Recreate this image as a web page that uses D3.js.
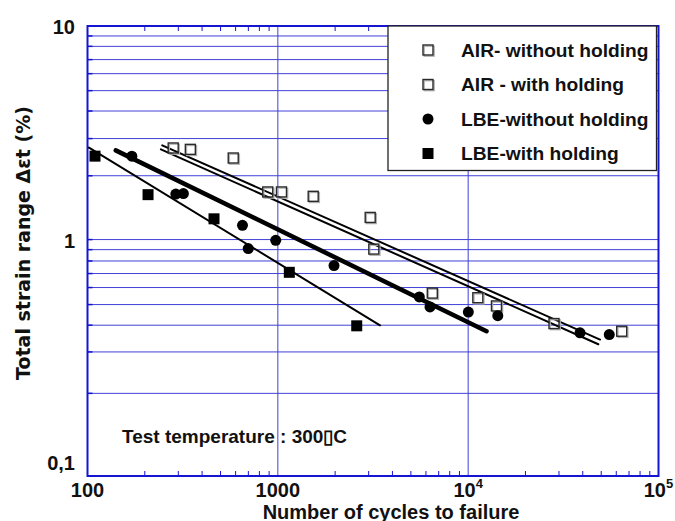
<!DOCTYPE html>
<html>
<head>
<meta charset="utf-8">
<script src="https://cdn.jsdelivr.net/npm/d3@7"></script>
<style>
  body { margin: 0; background: #fff; }
  svg { display: block; }
</style>
</head>
<body>
<svg id="chart" width="675" height="521"></svg>
<script>
// Fatigue life: total strain range vs number of cycles to failure

// AIR - without holding (open squares)
const airWithoutN = [347, 1045, 1534, 3193, 11240, 64080];
const airWithoutStrain = [2.83, 1.83, 1.75, 1.02, 0.62, 0.44];

// AIR - with holding (open squares)
const airWithN = [282, 583, 885, 3057, 6480, 14080, 28250];
const airWithStrain = [2.87, 2.59, 1.83, 1.41, 0.65, 0.57, 0.476];

// LBE - without holding (filled circles)
const lbeWithoutN = [171, 291, 319, 652, 699, 975, 1973, 5538, 6302, 10020, 14310, 38700, 55120];
const lbeWithoutStrain = [2.64, 1.79, 1.80, 1.30, 1.025, 1.116, 0.861, 0.625, 0.564, 0.535, 0.516, 0.433, 0.425];

// LBE - with holding (filled squares)
const lbeWithN = [109.5, 208, 462, 1149, 2597];
const lbeWithStrain = [2.64, 1.78, 1.39, 0.804, 0.465];

// fitted lines: [N start, strain start, N end, strain end]
const fitLines = [
    { ends: [247, 2.95, 49290, 0.404], width: 2 },
    { ends: [243, 2.83, 48280, 0.385], width: 2 },
    { ends: [140.7, 2.80, 12490, 0.44], width: 4.5 },
    { ends: [101.8, 2.88, 3442, 0.4675], width: 2 }
];

// horizontal grid positions as drawn in the original plot
const hGrid = [9.03, 8.12, 7.09, 6.14, 5.16, 4.19, 3.16, 2.16, 1.124, 1.014,
               0.903, 0.794, 0.688, 0.578, 0.468, 0.356, 0.233];
const vGrid = [1000, 10000];

const xTicks = [100, 1000, 10000, 100000];
const xTickText = [['100', ''], ['1000', ''], ['10', '4'], ['10', '5']];
const yTicks = [10, 1, 0.1];
const yTickText = ['10', '1', '0,1'];

const legendItems = [
    { label: 'AIR- without holding', shape: 'open' },
    { label: 'AIR - with holding', shape: 'open' },
    { label: 'LBE-without holding', shape: 'circle' },
    { label: 'LBE-with holding', shape: 'filled' }
];

const svg = d3.select('#chart');
const W = 675, H = 521;
const margin = { top: 26, right: 16.5, bottom: 45, left: 87.5 };

const x = d3.scaleLog().domain([100, 100000]).range([margin.left, W - margin.right]);
const y = d3.scaleLog().domain([0.1, 10]).range([H - margin.bottom, margin.top]);

const gridColor = '#4040d8';
const axisColor = '#1414d2';

// grid
svg.append('g').selectAll('line')
    .data(hGrid)
    .enter()
    .append('line')
    .attr('x1', x(100)).attr('x2', x(100000))
    .attr('y1', d => y(d)).attr('y2', d => y(d))
    .attr('stroke', gridColor)
    .attr('stroke-width', 1);

svg.append('g').selectAll('line')
    .data(vGrid)
    .enter()
    .append('line')
    .attr('x1', d => x(d)).attr('x2', d => x(d))
    .attr('y1', y(0.1)).attr('y2', y(10))
    .attr('stroke', gridColor)
    .attr('stroke-width', 1);

// minor ticks on top and bottom
const minorX = [];
[100, 1000, 10000].forEach(dec => {
    for (let k = 2; k <= 9; k++) minorX.push(dec * k);
});
svg.append('g').selectAll('line')
    .data(minorX)
    .enter()
    .append('line')
    .attr('x1', d => x(d)).attr('x2', d => x(d))
    .attr('y1', y(0.1)).attr('y2', y(0.1) - 5)
    .attr('stroke', axisColor);
svg.append('g').selectAll('line')
    .data(minorX)
    .enter()
    .append('line')
    .attr('x1', d => x(d)).attr('x2', d => x(d))
    .attr('y1', y(10)).attr('y2', y(10) + 5)
    .attr('stroke', axisColor);

// short ticks on left at grid rows
svg.append('g').selectAll('line')
    .data(hGrid)
    .enter()
    .append('line')
    .attr('x1', x(100)).attr('x2', x(100) + 5)
    .attr('y1', d => y(d)).attr('y2', d => y(d))
    .attr('stroke', axisColor)
    .attr('stroke-width', 1.5);

// frame
svg.append('rect')
    .attr('x', x(100)).attr('y', y(10))
    .attr('width', x(100000) - x(100))
    .attr('height', y(0.1) - y(10))
    .attr('fill', 'none')
    .attr('stroke', axisColor)
    .attr('stroke-width', 2);

// fitted lines
svg.append('g').selectAll('line')
    .data(fitLines)
    .enter()
    .append('line')
    .attr('x1', d => x(d.ends[0])).attr('y1', d => y(d.ends[1]))
    .attr('x2', d => x(d.ends[2])).attr('y2', d => y(d.ends[3]))
    .attr('stroke', '#000')
    .attr('stroke-width', d => d.width)
    .attr('stroke-linecap', 'round');

// markers
const openSize = 10, filledSize = 11, circleR = 5.5;

function drawOpen(g, px, py) {
    g.append('rect')
        .attr('x', px - openSize / 2 + 1.2).attr('y', py - openSize / 2 + 1.2)
        .attr('width', openSize).attr('height', openSize)
        .attr('fill', 'none').attr('stroke', '#b0b0b0').attr('stroke-width', 1.3);
    g.append('rect')
        .attr('x', px - openSize / 2).attr('y', py - openSize / 2)
        .attr('width', openSize).attr('height', openSize)
        .attr('fill', 'none').attr('stroke', '#2a2a2a').attr('stroke-width', 1.4);
}
function drawFilled(g, px, py) {
    g.append('rect')
        .attr('x', px - filledSize / 2).attr('y', py - filledSize / 2)
        .attr('width', filledSize).attr('height', filledSize)
        .attr('fill', '#000');
}
function drawCircle(g, px, py) {
    g.append('circle')
        .attr('cx', px).attr('cy', py).attr('r', circleR)
        .attr('fill', '#000');
}

const marks = svg.append('g');
airWithoutN.forEach((n, i) => drawOpen(marks, x(n), y(airWithoutStrain[i])));
airWithN.forEach((n, i) => drawOpen(marks, x(n), y(airWithStrain[i])));
lbeWithoutN.forEach((n, i) => drawCircle(marks, x(n), y(lbeWithoutStrain[i])));
lbeWithN.forEach((n, i) => drawFilled(marks, x(n), y(lbeWithStrain[i])));

// legend
const legend = svg.append('g');
legend.append('rect')
    .attr('x', 388).attr('y', 26)
    .attr('width', 268.5).attr('height', 144.5)
    .attr('fill', '#fff')
    .attr('stroke', '#222')
    .attr('stroke-width', 1.3);
legendItems.forEach((item, i) => {
    const cy = 50 + i * 34.5;
    if (item.shape === 'open') drawOpen(legend, 428, cy);
    if (item.shape === 'filled') drawFilled(legend, 428, cy);
    if (item.shape === 'circle') drawCircle(legend, 428, cy);
    legend.append('text')
        .attr('x', 461).attr('y', cy)
        .attr('dy', '0.36em')
        .attr('font-family', 'Liberation Sans, Arial, sans-serif')
        .attr('font-weight', 'bold')
        .attr('font-size', '19.2px')
        .attr('fill', '#111')
        .text(item.label);
});

// tick labels
const xl = svg.append('g')
    .attr('font-family', 'Liberation Sans, Arial, sans-serif')
    .attr('font-weight', 'bold')
    .attr('fill', '#111');
xTicks.forEach((t, i) => {
    const txt = xl.append('text')
        .attr('x', x(t)).attr('y', 497)
        .attr('text-anchor', 'middle')
        .attr('font-size', '20px');
    txt.append('tspan').text(xTickText[i][0]);
    if (xTickText[i][1]) {
        txt.append('tspan').attr('dy', -9).attr('font-size', '13px').text(xTickText[i][1]);
    }
});

svg.append('g').selectAll('text')
    .data(yTicks)
    .enter()
    .append('text')
    .attr('x', 75)
    .attr('y', (d, i) => [34, 248, 470][i])
    .attr('text-anchor', 'end')
    .attr('font-family', 'Liberation Sans, Arial, sans-serif')
    .attr('font-weight', 'bold')
    .attr('font-size', '20px')
    .attr('fill', '#111')
    .text((d, i) => yTickText[i]);

// axis titles
svg.append('text')
    .attr('x', 391).attr('y', 519)
    .attr('text-anchor', 'middle')
    .attr('font-family', 'Liberation Sans, Arial, sans-serif')
    .attr('font-weight', 'bold')
    .attr('font-size', '20px')
    .attr('fill', '#111')
    .text('Number of cycles to failure');

svg.append('text')
    .attr('transform', 'translate(30, 243) rotate(-90)')
    .attr('text-anchor', 'middle')
    .attr('font-family', 'DejaVu Sans, sans-serif')
    .attr('font-weight', 'bold')
    .attr('font-size', '19px')
    .attr('fill', '#111')
    .text('Total strain range \u0394\u03b5t (%)');

// annotation
svg.append('text')
    .attr('x', 122).attr('y', 443)
    .attr('font-family', 'Liberation Sans, Arial, sans-serif')
    .attr('font-weight', 'bold')
    .attr('font-size', '19px')
    .attr('fill', '#111')
    .text('Test temperature : 300\u25afC');
</script>
</body>
</html>
